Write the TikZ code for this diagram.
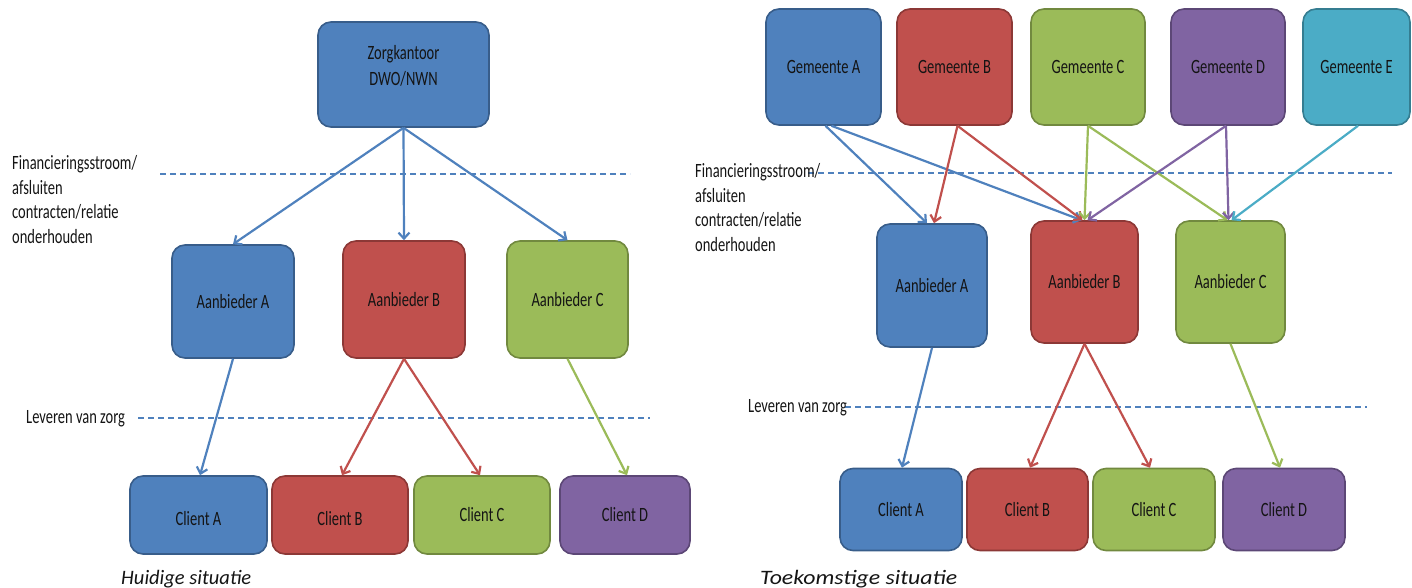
\documentclass[tikz,border=0pt]{standalone}
\usepackage{fontspec}
\setmainfont{Carlito}
\usepackage{graphicx}
\usetikzlibrary{arrows.meta}

\definecolor{cblue}{HTML}{4F81BD}   \definecolor{cblueD}{HTML}{385D8A}
\definecolor{cred}{HTML}{C0504D}    \definecolor{credD}{HTML}{8C3836}
\definecolor{cgreen}{HTML}{9BBB59}  \definecolor{cgreenD}{HTML}{71893F}
\definecolor{cpurple}{HTML}{8064A2} \definecolor{cpurpleD}{HTML}{5C4776}
\definecolor{ccyan}{HTML}{4BACC6}   \definecolor{ccyanD}{HTML}{357D91}
\definecolor{ink}{HTML}{141414}

% tall, narrow lettering as used inside the diagram
\newcommand\tall[1]{\scalebox{1}[1.4]{#1}}
\newcommand\boxfont{\fontsize{14.5}{18.6}\selectfont}

\tikzset{
  box/.style={draw, rounded corners=13pt, line width=1.6pt, inner sep=0pt,
              font=\boxfont, text=ink},
  bluebox/.style={box, fill=cblue, draw=cblueD},
  redbox/.style={box, fill=cred, draw=credD},
  greenbox/.style={box, fill=cgreen, draw=cgreenD},
  purplebox/.style={box, fill=cpurple, draw=cpurpleD},
  cyanbox/.style={box, fill=ccyan, draw=ccyanD},
  conn/.style={line width=2.2pt, -{Straight Barb[length=6pt,width=11pt]}},
  sepline/.style={draw=cblue, line width=1.2pt, dash pattern=on 6pt off 4pt},
  lbl/.style={inner sep=0pt, font=\boxfont, text=ink},
  caption/.style={inner sep=0pt, font=\fontsize{20.5}{24}\selectfont\itshape, text=ink},
}

\begin{document}
\begin{tikzpicture}[x=1pt, y=-1pt]
  \useasboundingbox (0,0) rectangle (1412,588);

  % ---------------- current situation ----------------
  \node[bluebox, minimum width=171pt, minimum height=105pt] (zk) at (403.5,74.5)
    {\raisebox{7pt}[\height][\depth]{\tall{\begin{tabular}{@{}c@{}}Zorgkantoor\\DWO/NWN\end{tabular}}}};

  \node[bluebox,  minimum width=122pt, minimum height=113pt] (laA) at (233,301.5) {\tall{Aanbieder A}};
  \node[redbox,   minimum width=122pt, minimum height=117pt] (laB) at (404,299.5) {\tall{Aanbieder B}};
  \node[greenbox, minimum width=121pt, minimum height=117pt] (laC) at (567.5,299.5) {\tall{Aanbieder C}};

  \node[bluebox,   minimum width=137pt, minimum height=78pt] (lcA) at (198.5,515) {\raisebox{-4pt}[\height][\depth]{\tall{Client A}}};
  \node[redbox,    minimum width=136pt, minimum height=78pt] (lcB) at (340,515)   {\raisebox{-4pt}[\height][\depth]{\tall{Client B}}};
  \node[greenbox,  minimum width=136pt, minimum height=78pt] (lcC) at (482,515)   {\tall{Client C}};
  \node[purplebox, minimum width=130pt, minimum height=78pt] (lcD) at (625,515)   {\tall{Client D}};

  \coordinate (lf1) at (160,174); \coordinate (lf2) at (630,174);
  \coordinate (ll1) at (138,418); \coordinate (ll2) at (650,418);
  \draw[sepline] (lf1) -- (lf2);
  \draw[sepline] (ll1) -- (ll2);

  \node[lbl, anchor=base west] (lfin) at (12,170)
    {\tall{\begin{tabular}[t]{@{}l@{}}Financieringsstroom/\\[-1.1pt]afsluiten\\[-1.1pt]contracten/relatie\\[-1.1pt]onderhouden\end{tabular}}};
  \node[lbl, anchor=base west] (llev) at (26,423) {\tall{Leveren van zorg}};

  \draw[conn, cblue] (zk.south) -- (laA.north);
  \draw[conn, cblue] (zk.south) -- (laB.north);
  \draw[conn, cblue] (zk.south) -- (laC.north);

  \draw[conn, cblue]  (laA.south) -- ([xshift=1.5pt]lcA.north);
  \draw[conn, cred]   (laB.south) -- ([xshift=2pt]lcB.north);
  \draw[conn, cred]   (laB.south) -- ([xshift=-2pt]lcC.north);
  \draw[conn, cgreen] (laC.south) -- ([xshift=2pt]lcD.north);

  \node[caption, anchor=base west] (capL) at (121,584) {Huidige situatie};

  % ---------------- future situation ----------------
  \node[bluebox,   minimum width=115pt, minimum height=116pt] (gA) at (823.5,67) {\tall{Gemeente A}};
  \node[redbox,    minimum width=115pt, minimum height=116pt] (gB) at (954.5,67) {\tall{Gemeente B}};
  \node[greenbox,  minimum width=114pt, minimum height=116pt] (gC) at (1088,67)  {\tall{Gemeente C}};
  \node[purplebox, minimum width=114pt, minimum height=116pt] (gD) at (1228,67)  {\tall{Gemeente D}};
  \node[cyanbox,   minimum width=107pt, minimum height=116pt] (gE) at (1356.5,67) {\tall{Gemeente E}};

  \node[bluebox,  minimum width=110pt, minimum height=123pt] (raA) at (932,285.5)   {\tall{Aanbieder A}};
  \node[redbox,   minimum width=107pt, minimum height=122pt] (raB) at (1084.5,282) {\tall{Aanbieder B}};
  \node[greenbox, minimum width=109pt, minimum height=122pt] (raC) at (1230.5,282) {\tall{Aanbieder C}};

  \node[bluebox,   minimum width=122pt, minimum height=82pt] (rcA) at (901,509.5)    {\tall{Client A}};
  \node[redbox,    minimum width=121pt, minimum height=82pt] (rcB) at (1027.5,509.5) {\tall{Client B}};
  \node[greenbox,  minimum width=122pt, minimum height=82pt] (rcC) at (1154,509.5)   {\tall{Client C}};
  \node[purplebox, minimum width=122pt, minimum height=82pt] (rcD) at (1284,509.5)   {\tall{Client D}};

  \coordinate (rf1) at (808,173);  \coordinate (rf2) at (1392,173);
  \coordinate (rl1) at (845,407);  \coordinate (rl2) at (1367,407);
  \draw[sepline] (rf1) -- (rf2);
  \draw[sepline] (rl1) -- (rl2);

  \node[lbl, anchor=base west] (rfin) at (695,178)
    {\tall{\begin{tabular}[t]{@{}l@{}}Financieringsstroom/\\[-1.1pt]afsluiten\\[-1.1pt]contracten/relatie\\[-1.1pt]onderhouden\end{tabular}}};
  \node[lbl, anchor=base west] (rlev) at (748,412) {\tall{Leveren van zorg}};

  \draw[conn, cblue]   ([xshift=2pt]gA.south)  -- ([xshift=-5pt]raA.north);
  \draw[conn, cblue]   ([xshift=8pt]gA.south)  -- ([xshift=-3pt]raB.north);
  \draw[conn, cred]    ([xshift=3pt]gB.south)  -- ([xshift=2pt]raA.north);
  \draw[conn, cred]    ([xshift=3pt]gB.south)  -- ([xshift=-2pt]raB.north);
  \draw[conn, cgreen]  (gC.south) -- (raB.north);
  \draw[conn, cgreen]  (gC.south) -- ([xshift=-3pt]raC.north);
  \draw[conn, cpurple] ([xshift=-2pt]gD.south) -- ([xshift=3pt]raB.north);
  \draw[conn, cpurple] ([xshift=-2pt]gD.south) -- ([xshift=-2pt]raC.north);
  \draw[conn, ccyan]   ([xshift=1.5pt]gE.south) -- ([xshift=1pt]raC.north);

  \draw[conn, cblue]  (raA.south) -- ([xshift=1pt]rcA.north);
  \draw[conn, cred]   (raB.south) -- ([xshift=2.5pt]rcB.north);
  \draw[conn, cred]   (raB.south) -- ([xshift=-4pt]rcC.north);
  \draw[conn, cgreen] (raC.south) -- ([xshift=-4pt]rcD.north);

  \node[caption, anchor=base west] (capR) at (760,584) {\scalebox{1.16}[1]{Toekomstige situatie}};
\end{tikzpicture}
\end{document}
